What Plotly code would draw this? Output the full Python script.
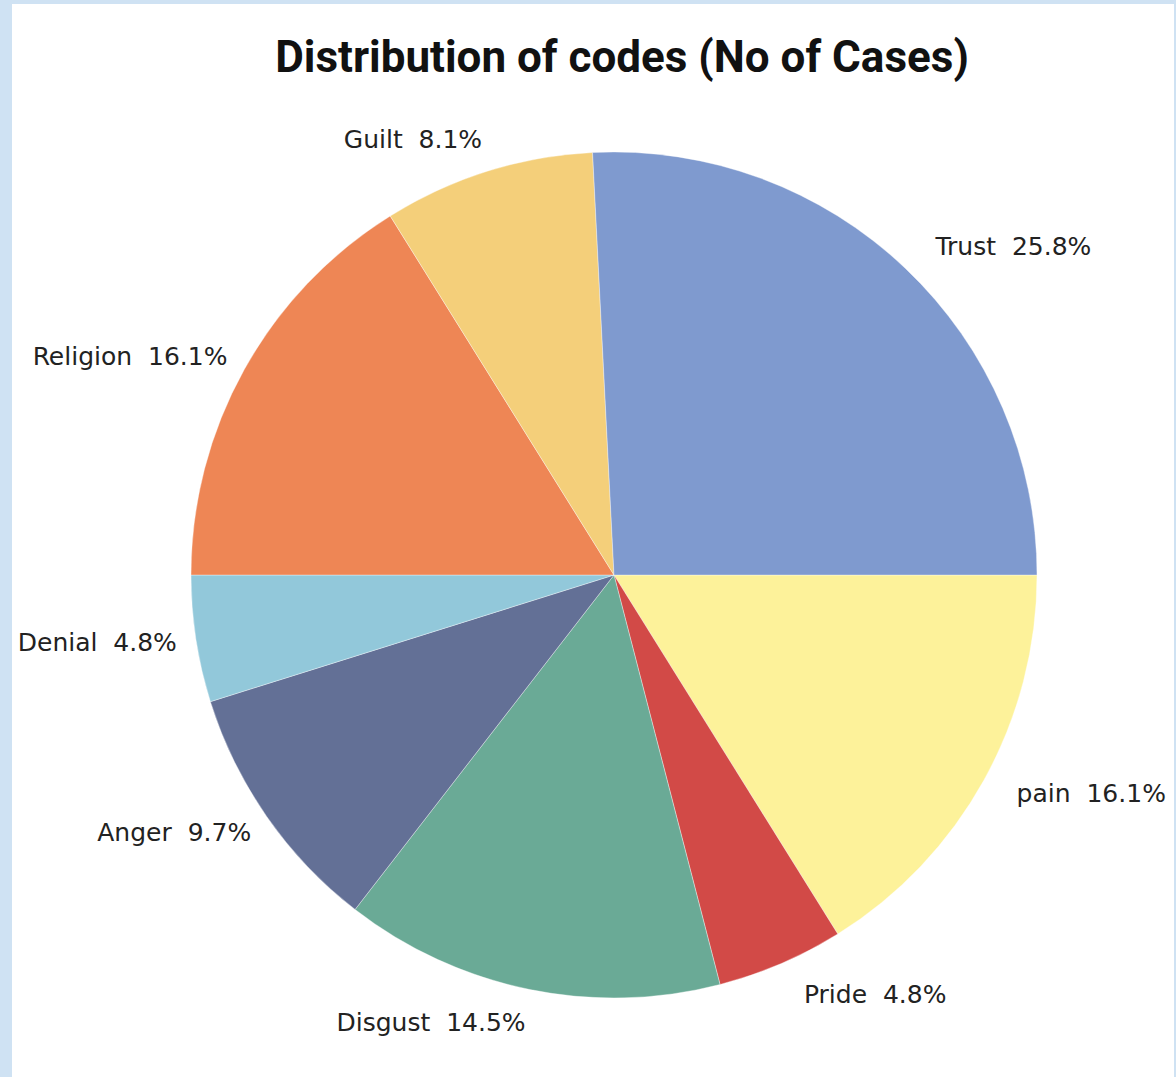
import plotly.graph_objects as go

labels = ["pain", "Pride", "Disgust", "Anger", "Denial", "Religion", "Guilt", "Trust"]
counts = [10, 3, 9, 6, 3, 10, 5, 16]
colors = ["#FDF29A", "#D24A47", "#6AAA96", "#637096", "#92C8DA", "#EE8655", "#F4CF7A", "#7F9ACF"]

W, H = 1176, 1077
cx, cy, r = 614, 575, 423
r_lab = r + 20  # label ring radius (invisible pie carrying the outside labels)
lab_dx = 8


def dom(rad, dx=0):
    return dict(x=[(cx + dx - rad) / W, (cx + dx + rad) / W], y=[(H - cy - rad) / H, (H - cy + rad) / H])


fig = go.Figure()
# invisible, slightly larger pie that only carries the outside labels
fig.add_trace(go.Pie(
    labels=labels, values=counts, sort=False, direction="clockwise", rotation=90,
    marker=dict(colors=["rgba(0,0,0,0)"] * len(labels), line=dict(width=0)),
    textposition="outside",
    texttemplate="%{label}\u00a0 %{percent:.1%}",
    textfont=dict(family="DejaVu Sans", size=25, color="#222222"),
    domain=dom(r_lab, lab_dx), showlegend=False, hoverinfo="skip",
))
# visible pie
fig.add_trace(go.Pie(
    labels=labels, values=counts, sort=False, direction="clockwise", rotation=90,
    marker=dict(colors=colors, line=dict(color="rgba(255,255,255,0.6)", width=0.6)),
    textinfo="none",
    domain=dom(r), showlegend=False,
    hoverinfo="label+value+percent",
))

fig.update_layout(
    width=W, height=H,
    margin=dict(l=0, r=0, t=0, b=0),
    paper_bgcolor="#CFE2F3",
    title=dict(text="<b>Distribution of codes (No of Cases)</b>",
               x=622 / W, xanchor="center", y=1 - 57 / H, yanchor="middle",
               font=dict(family="Roboto", size=44, color="#111111")),
    shapes=[dict(type="rect", xref="paper", yref="paper", x0=12 / W, x1=1174 / W, y0=0, y1=(H - 4) / H,
                 fillcolor="white", line=dict(width=0), layer="below")],
)

fig.write_html("out.html", config={"displayModeBar": False},
               post_script="document.body.style.margin='0';document.body.style.overflow='hidden';")
